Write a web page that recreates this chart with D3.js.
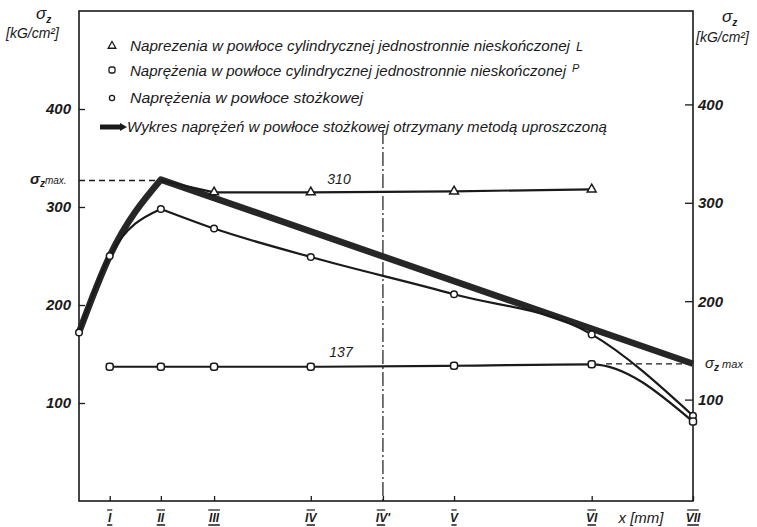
<!DOCTYPE html>
<html>
<head>
<meta charset="utf-8">
<script src="https://cdn.jsdelivr.net/npm/d3@7"></script>
<style>
  body { margin: 0; background: #fff; }
  text { font-family: "Liberation Sans", sans-serif; font-style: italic; fill: #1a1a1a; }
</style>
</head>
<body>
<script>
// stations along the shell, x in arbitrary units (0 = start of shell)
var stationNames = ["I", "II", "III", "IV", "IV'", "V", "VI", "VII"];
var stationX = [0.6, 1.6, 2.64, 4.53, 5.94, 7.33, 10.02, 12];

// cylindrical shell, semi-infinite L (triangles)
var cylLX = [1.6, 2.64, 4.53, 7.33, 10.02];
var cylLY = [327, 315, 315, 316, 318];

// cylindrical shell, semi-infinite P (squares)
var cylPX = [0.6, 1.6, 2.64, 4.53, 7.33, 10.02, 12];
var cylPY = [137, 137, 137, 137, 138, 139.5, 81];

// conical shell (circles)
var coneX = [0, 0.6, 1.6, 2.64, 4.53, 7.33, 10.02, 12];
var coneY = [172, 250, 298, 278, 249, 211, 170, 87];

// simplified method (thick line)
var simpX = [0, 0.6, 1.6, 12];
var simpY = [172, 250, 328, 140];

var yTicks = [100, 200, 300, 400];

var width = 757, height = 527;
var svg = d3.select('body').append('svg')
    .attr('width', width)
    .attr('height', height);

var x = d3.scaleLinear().domain([0, 12]).range([79, 693]);
var y = d3.scaleLinear().domain([0, 500]).range([501, 11]);
var yR = d3.scaleLinear().domain([0, 500]).range([498, 6]);

function pts(xs, ys) { return xs.map(function (v, i) { return [v, ys[i]]; }); }

// frame
svg.append('rect')
  .attr('x', x(0)).attr('y', y(500))
  .attr('width', x(12) - x(0)).attr('height', y(0) - y(500))
  .attr('fill', 'none').attr('stroke', '#1a1a1a').attr('stroke-width', 1.6);

// left axis
var gL = svg.append('g').attr('transform', 'translate(' + x(0) + ',0)')
  .call(d3.axisLeft(y).tickValues(yTicks).tickSizeInner(-6).tickSizeOuter(0).tickPadding(8));
// right axis
var gR = svg.append('g').attr('transform', 'translate(' + x(12) + ',0)')
  .call(d3.axisRight(yR).tickValues(yTicks).tickSizeInner(-8).tickSizeOuter(0).tickPadding(5));
// bottom axis
var gB = svg.append('g').attr('transform', 'translate(0,' + y(0) + ')')
  .call(d3.axisBottom(x).tickValues(stationX).tickSizeInner(-5).tickSizeOuter(0).tickFormat(''));

[gL, gR, gB].forEach(function (g) {
  g.select('.domain').remove();
  g.selectAll('line').attr('stroke', '#1a1a1a').attr('stroke-width', 1.3);
  g.selectAll('text').style('font-family', '"Liberation Sans", sans-serif')
    .style('font-style', 'italic').style('font-weight', 'bold')
    .style('font-size', '15px').attr('fill', '#1a1a1a');
});

// station labels with bars above and below
stationNames.forEach(function (name, i) {
  svg.append('text')
    .attr('x', x(stationX[i])).attr('y', 522)
    .attr('text-anchor', 'middle')
    .style('font-size', '12px').style('font-weight', 'bold')
    .text(name);
  var w = name.replace("'", '').length * 3.2 + 2;
  var cx = x(stationX[i]) - (name.indexOf("'") >= 0 ? 2 : 0);
  svg.append('line').attr('x1', cx - w / 2).attr('x2', cx + w / 2)
    .attr('y1', 510).attr('y2', 510).attr('stroke', '#1a1a1a').attr('stroke-width', 1.2);
  svg.append('line').attr('x1', cx - w / 2).attr('x2', cx + w / 2)
    .attr('y1', 525).attr('y2', 525).attr('stroke', '#1a1a1a').attr('stroke-width', 1.5);
});

svg.append('text').attr('x', 641).attr('y', 523).attr('text-anchor', 'middle')
  .style('font-size', '15px').text('x [mm]');

// dash-dot line at IV'
svg.append('line')
  .attr('x1', x(5.94)).attr('x2', x(5.94)).attr('y1', 130).attr('y2', y(0))
  .attr('stroke', '#1a1a1a').attr('stroke-width', 1.2)
  .attr('stroke-dasharray', '14,3,2,3');

// dashed sigma max lines
svg.append('line')
  .attr('x1', x(0)).attr('x2', x(1.6)).attr('y1', y(327)).attr('y2', y(327))
  .attr('stroke', '#1a1a1a').attr('stroke-width', 1.5).attr('stroke-dasharray', '6,4');
svg.append('line')
  .attr('x1', x(10.3)).attr('x2', x(12)).attr('y1', y(140)).attr('y2', y(140))
  .attr('stroke', '#1a1a1a').attr('stroke-width', 1.3).attr('stroke-dasharray', '6,4');

var line = d3.line().x(function (d) { return x(d[0]); }).y(function (d) { return y(d[1]); });
var lineMono = d3.line().x(function (d) { return x(d[0]); }).y(function (d) { return y(d[1]); })
  .curve(d3.curveMonotoneX);

// simplified method, thick line
var simp = pts(simpX, simpY);
var simpPath = lineMono(simp.slice(0, 3)) + line(simp.slice(2)).replace('M', 'L');
svg.append('path').attr('d', simpPath)
  .attr('fill', 'none').attr('stroke', '#262626').attr('stroke-width', 6.5)
  .attr('stroke-linejoin', 'round');

// conical shell
var cone = pts(coneX, coneY);
var conePath = lineMono(cone.slice(0, 3)) + lineMono(cone.slice(2)).replace('M', 'L');
svg.append('path').attr('d', conePath)
  .attr('fill', 'none').attr('stroke', '#1a1a1a').attr('stroke-width', 2.2);

// cylindrical L
svg.append('path').attr('d', line(pts(cylLX, cylLY)))
  .attr('fill', 'none').attr('stroke', '#1a1a1a').attr('stroke-width', 2.2);

// cylindrical P
svg.append('path').attr('d', lineMono(pts(cylPX, cylPY)))
  .attr('fill', 'none').attr('stroke', '#1a1a1a').attr('stroke-width', 2.2);

// markers
svg.selectAll('.mcone').data(cone).enter().append('circle')
  .attr('class', 'mcone')
  .attr('cx', function (d) { return x(d[0]); }).attr('cy', function (d) { return y(d[1]); })
  .attr('r', 3.3).attr('fill', '#fff').attr('stroke', '#1a1a1a').attr('stroke-width', 1.5);

var tri = d3.symbol().type(d3.symbolTriangle).size(34);
svg.selectAll('.mcylL').data(pts(cylLX, cylLY).slice(1)).enter().append('path')
  .attr('class', 'mcylL')
  .attr('transform', function (d) { return 'translate(' + x(d[0]) + ',' + y(d[1]) + ')'; })
  .attr('d', tri).attr('fill', '#fff').attr('stroke', '#1a1a1a').attr('stroke-width', 1.5);

svg.selectAll('.mcylP').data(pts(cylPX, cylPY)).enter().append('rect')
  .attr('class', 'mcylP')
  .attr('x', function (d) { return x(d[0]) - 3.5; }).attr('y', function (d) { return y(d[1]) - 3.5; })
  .attr('width', 7).attr('height', 7).attr('rx', 2.5)
  .attr('fill', '#fff').attr('stroke', '#1a1a1a').attr('stroke-width', 1.5);

// value labels
svg.append('text').attr('x', 339).attr('y', 184).attr('text-anchor', 'middle')
  .style('font-size', '14px').text('310');
svg.append('text').attr('x', 341).attr('y', 357).attr('text-anchor', 'middle')
  .style('font-size', '14px').text('137');

// sigma max labels
var smL = svg.append('text').attr('x', 30).attr('y', 184).style('font-size', '15px').style('font-weight', 'bold');
smL.append('tspan').text('σ');
smL.append('tspan').attr('dy', 3).style('font-size', '10px').text('z');
smL.append('tspan').attr('dy', -3).style('font-size', '10px').style('font-weight', 'normal').text('max.');

var smR = svg.append('text').attr('x', 705).attr('y', 368).style('font-size', '15px');
smR.append('tspan').text('σ');
smR.append('tspan').attr('dy', 3).style('font-size', '10px').style('font-weight', 'bold').text('z');
smR.append('tspan').attr('dy', -3).style('font-size', '11px').text(' max');

// axis titles
var tL = svg.append('text').attr('x', 36).attr('y', 19).style('font-size', '17px');
tL.append('tspan').text('σ');
tL.append('tspan').attr('dy', 4).style('font-size', '10px').style('font-weight', 'bold').text('z');
svg.append('text').attr('x', 6).attr('y', 38).style('font-size', '14px').text('[kG/cm²]');

var tR = svg.append('text').attr('x', 722).attr('y', 22).style('font-size', '17px');
tR.append('tspan').text('σ');
tR.append('tspan').attr('dy', 4).style('font-size', '10px').style('font-weight', 'bold').text('z');
svg.append('text').attr('x', 696).attr('y', 42).style('font-size', '14px').text('[kG/cm²]');

// legend
var lg = svg.append('g');
lg.append('path').attr('transform', 'translate(112,46)')
  .attr('d', d3.symbol().type(d3.symbolTriangle).size(26))
  .attr('fill', '#fff').attr('stroke', '#1a1a1a').attr('stroke-width', 1.3);
lg.append('rect').attr('x', 109).attr('y', 67).attr('width', 6).attr('height', 6).attr('rx', 2)
  .attr('fill', '#fff').attr('stroke', '#1a1a1a').attr('stroke-width', 1.3);
lg.append('circle').attr('cx', 112).attr('cy', 98).attr('r', 2.6)
  .attr('fill', '#fff').attr('stroke', '#1a1a1a').attr('stroke-width', 1.3);
lg.append('line').attr('x1', 100).attr('x2', 121).attr('y1', 127).attr('y2', 127)
  .attr('stroke', '#1a1a1a').attr('stroke-width', 5);
lg.append('path').attr('d', 'M120,123 L127,127 L120,131 Z').attr('fill', '#1a1a1a');

lg.append('text').attr('x', 130).attr('y', 51).style('font-size', '14px')
  .attr('textLength', 440).attr('lengthAdjust', 'spacingAndGlyphs')
  .text('Naprezenia  w powłoce cylindrycznej jednostronnie nieskończonej');
lg.append('text').attr('x', 576).attr('y', 51).style('font-size', '13px').text('L');
lg.append('text').attr('x', 130).attr('y', 76).style('font-size', '14px')
  .attr('textLength', 436).attr('lengthAdjust', 'spacingAndGlyphs')
  .text('Naprężenia  w powłoce cylindrycznej jednostronnie nieskończonej');
lg.append('text').attr('x', 572).attr('y', 72).style('font-size', '11px').text('P');
lg.append('text').attr('x', 130).attr('y', 103).style('font-size', '14px')
  .attr('textLength', 233).attr('lengthAdjust', 'spacingAndGlyphs')
  .text('Naprężenia  w powłoce stożkowej');
lg.append('text').attr('x', 127).attr('y', 132).style('font-size', '14px')
  .attr('textLength', 480).attr('lengthAdjust', 'spacingAndGlyphs')
  .text('Wykres naprężeń w powłoce stożkowej otrzymany metodą uproszczoną');
</script>
</body>
</html>
